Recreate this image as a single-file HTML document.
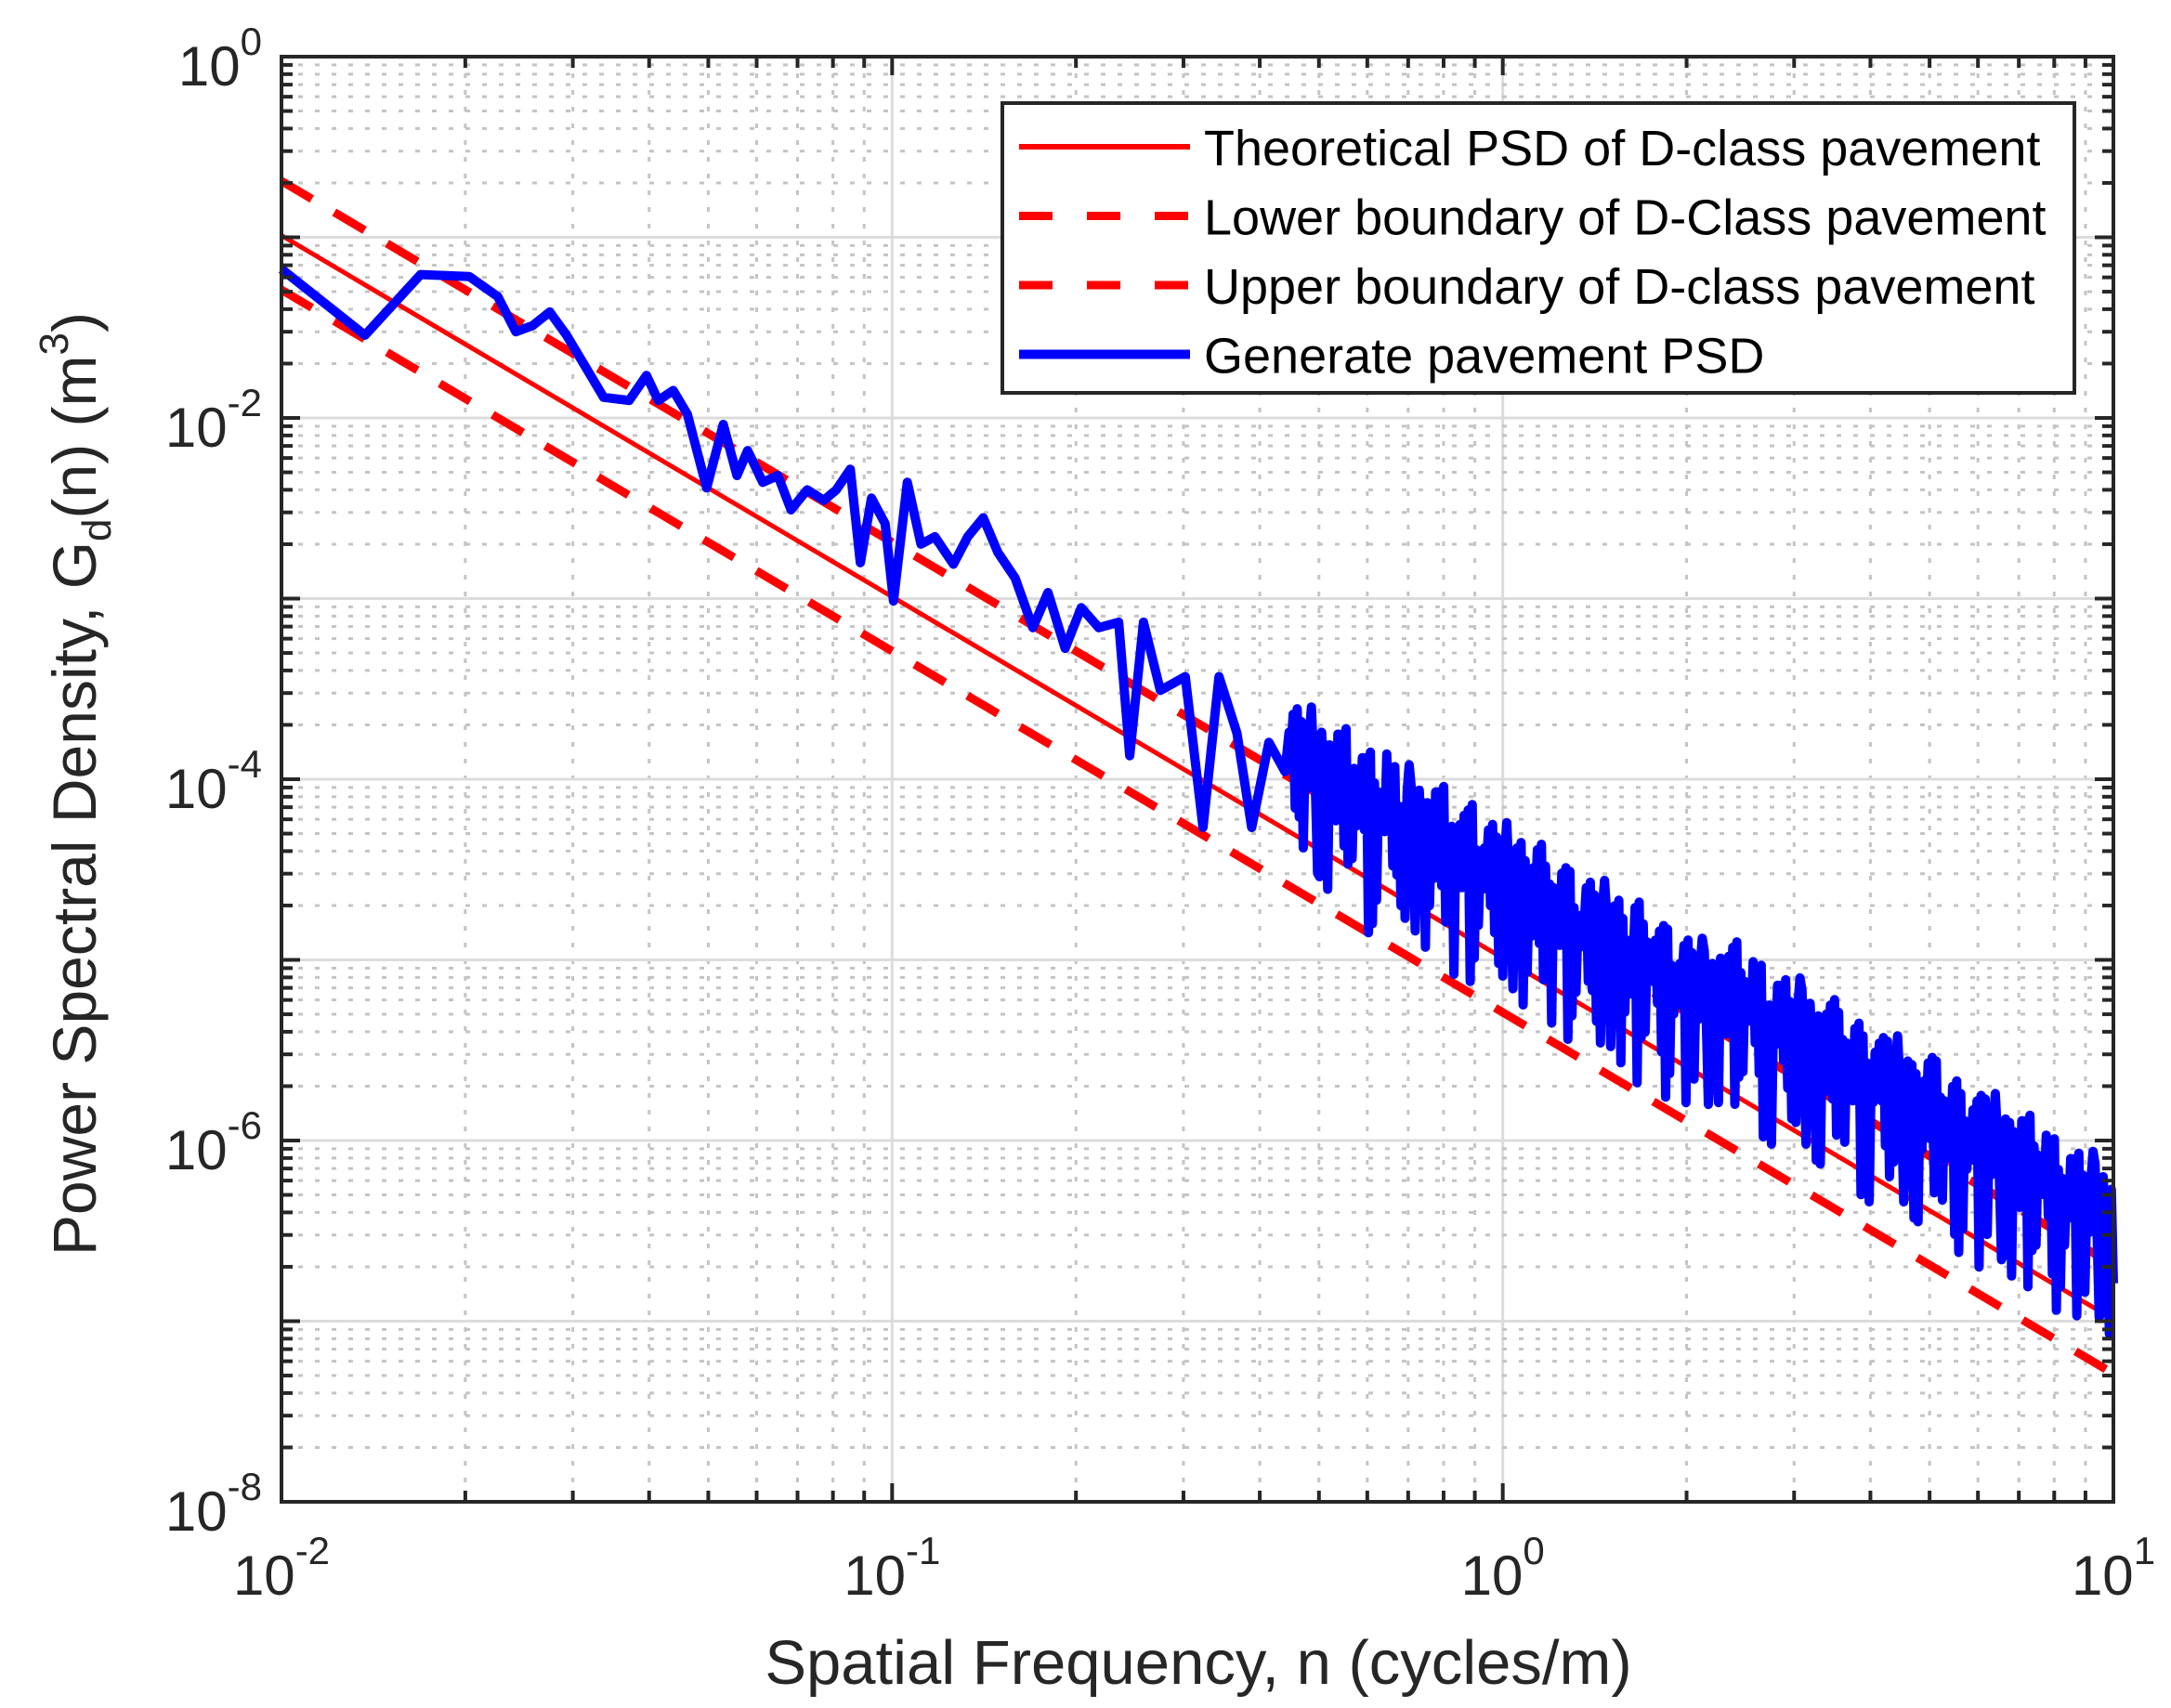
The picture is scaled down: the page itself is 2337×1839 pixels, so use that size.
<!DOCTYPE html>
<html><head><meta charset="utf-8"><style>
html,body{margin:0;padding:0;background:#fff;}
svg{display:block;font-family:"Liberation Sans",Arial,sans-serif;}
</style></head><body>
<svg id="chart" width="2337" height="1839" viewBox="0 0 2337 1839" xmlns="http://www.w3.org/2000/svg">
<rect width="2337" height="1839" fill="#fff"/>
<g id="grid"></g>
<g id="series"></g>
<g id="axes"></g>
<g id="legend"></g>
<text x="1290" y="1813" font-size="67" fill="#262626" text-anchor="middle">Spatial Frequency, n (cycles/m)</text>
<text transform="translate(103,844) rotate(-90)" font-size="66" fill="#262626" text-anchor="middle">Power Spectral Density, G<tspan font-size="44" dy="16">d</tspan><tspan dy="-16">(n) (m</tspan><tspan font-size="44" dy="-30">3</tspan><tspan dy="30">)</tspan></text>
</svg>
<script>
// ---- data ----
const xTickExps = [-2, -1, 0, 1];
const yTickExps = [-8, -6, -4, -2, 0];
const gq0Theory = 1024e-6;   // m^3 at n0
const gq0Lower = 512e-6;
const gq0Upper = 2048e-6;
const n0 = 0.1;
const lineFreqs = [0.01, 10];
// Low-frequency generated PSD
const lowFreqs = [0.01,0.0137,0.0169,0.0203,0.0226,0.0242,0.0258,0.0275,0.0293,0.0337,0.0371,0.0396,0.0414,0.0438,0.0462,0.0497,0.0529,0.0557,0.058,0.0614,0.065,0.0683,0.0726,0.0773,0.081,0.0854,0.0887,0.0925,0.0974,0.1005,0.1059,0.1115,0.1175,0.126,0.133,0.141,0.149,0.159,0.17,0.18,0.192,0.204,0.218,0.235,0.245,0.258,0.275,0.302,0.323,0.343,0.367,0.388,0.414,0.44];
const lowValues = [0.0667,0.0287,0.0622,0.0607,0.047,0.030,0.0325,0.0386,0.0287,0.013,0.0125,0.0172,0.0125,0.0142,0.0105,0.0041,0.0092,0.0048,0.0066,0.0044,0.0048,0.0031,0.0040,0.0035,0.0040,0.0052,0.00158,0.0036,0.0026,0.00097,0.0044,0.0020,0.0022,0.00155,0.0022,0.0028,0.0018,0.0013,0.00069,0.00108,0.00053,0.00089,0.00069,0.00074,0.000135,0.00074,0.00031,0.00037,5.4e-5,0.00037,0.00018,5.4e-5,0.00016,0.00011];
// High-frequency generated PSD: log10 values on a log-frequency grid (three interleaved sub-grids)
const denseLogFreqStart = -0.35;
const denseLogFreqStep = 0.01;
const denseLogValuesA = [-3.74,-4.16,-3.68,-4.05,-3.87,-4.54,-3.81,-4.08,-3.75,-4.37,
-3.99,-4.26,-3.88,-4.85,-4.02,-4.19,-3.86,-4.48,-4.15,-4.77,
-4.04,-4.41,-4.13,-4.70,-4.07,-4.59,-4.31,-5.08,-4.25,-4.52,
-4.14,-4.81,-4.38,-4.70,-4.32,-5.09,-4.51,-4.63,-4.35,-5.07,
-4.49,-4.91,-4.48,-5.35,-4.62,-4.89,-4.51,-5.18,-4.75,-5.12,
-4.64,-5.46,-4.73,-5.05,-4.67,-5.29,-4.91,-5.68,-4.80,-5.12,
-4.89,-5.51,-4.83,-5.30,-5.02,-5.79,-4.96,-5.33,-4.95,-5.62,
-5.04,-5.41,-4.98,-5.80,-5.07,-5.34,-5.01,-5.63,-5.25,-6.02,
-5.14,-5.56,-5.23,-5.90,-5.17,-5.59,-5.36,-6.13,-5.30,-5.77,
-5.29,-6.01,-5.48,-5.75,-5.42,-6.34,-5.51,-5.78,-5.45,-6.12,
-5.64,-6.06,-5.58,-6.45,-5.67,-5.99,-5.56,-6.33,-5.85,-6.52,
-5.74,-6.16,-5.83,-6.70,-5.77,-6.19,-5.96,-6.63,-5.90,-6.37,
-5.89,-6.81,-6.03,-6.30,-5.97,-6.74,-6.16,-6.58,-6.10,-6.97,
-6.19,-6.51,-6.13,-6.95,-6.32,-6.79];
const denseLogValuesB = [-3.84,-3.61,-4.38,-3.75,-4.07,-3.74,-4.61,-3.93,-4.05,-3.72,
-4.44,-3.96,-4.28,-3.85,-4.67,-4.14,-4.16,-3.93,-4.70,-4.07,
-4.39,-4.06,-4.93,-4.25,-4.37,-4.04,-4.76,-4.28,-4.60,-4.17,
-4.99,-4.46,-4.48,-4.25,-5.02,-4.39,-4.71,-4.38,-5.25,-4.57,
-4.69,-4.36,-5.08,-4.60,-4.92,-4.49,-5.31,-4.78,-4.80,-4.57,
-5.34,-4.71,-5.03,-4.70,-5.57,-4.89,-5.01,-4.68,-5.40,-4.92,
-5.24,-4.81,-5.63,-5.10,-5.12,-4.89,-5.66,-5.03,-5.35,-5.02,
-5.79,-5.11,-5.23,-4.90,-5.62,-5.14,-5.46,-5.03,-5.85,-5.32,
-5.34,-5.11,-5.88,-5.25,-5.57,-5.24,-6.11,-5.43,-5.55,-5.22,
-5.94,-5.46,-5.78,-5.35,-6.17,-5.64,-5.66,-5.43,-6.20,-5.57,
-5.89,-5.56,-6.43,-5.75,-5.87,-5.54,-6.26,-5.78,-6.10,-5.67,
-6.49,-5.96,-5.98,-5.75,-6.52,-5.89,-6.21,-5.88,-6.75,-6.07,
-6.19,-5.86,-6.58,-6.10,-6.42,-5.99,-6.81,-6.28,-6.30,-6.07,
-6.84,-6.21,-6.53,-6.20,-7.07,-6.39];
const denseLogValuesC = [-3.64,-4.21,-3.83,-3.60,-4.52,-3.99,-3.81,-4.23,-3.75,-4.47,
-3.94,-4.16,-3.88,-4.80,-4.07,-4.29,-3.96,-4.53,-4.15,-3.92,
-4.84,-4.31,-4.13,-4.55,-4.07,-4.79,-4.26,-4.48,-4.20,-5.12,
-4.39,-4.61,-4.28,-4.85,-4.47,-4.24,-5.16,-4.63,-4.45,-4.87,
-4.39,-5.11,-4.58,-4.80,-4.52,-5.44,-4.71,-4.93,-4.60,-5.17,
-4.79,-4.56,-5.48,-4.95,-4.77,-5.19,-4.71,-5.43,-4.90,-5.12,
-4.84,-5.76,-5.03,-5.25,-4.92,-5.49,-5.11,-4.88,-5.80,-5.27,
-4.99,-5.41,-4.93,-5.65,-5.12,-5.34,-5.06,-5.98,-5.25,-5.47,
-5.14,-5.71,-5.33,-5.10,-6.02,-5.49,-5.31,-5.73,-5.25,-5.97,
-5.44,-5.66,-5.38,-6.30,-5.57,-5.79,-5.46,-6.03,-5.65,-5.42,
-6.34,-5.81,-5.63,-6.05,-5.57,-6.29,-5.76,-5.98,-5.70,-6.62,
-5.89,-6.11,-5.78,-6.35,-5.97,-5.74,-6.66,-6.13,-5.95,-6.37,
-5.89,-6.61,-6.08,-6.30,-6.02,-6.94,-6.21,-6.43,-6.10,-6.67,
-6.29,-6.06,-6.98,-6.45,-6.27,-6.69];
const legendLabels = ["Theoretical PSD of D-class pavement","Lower boundary of D-Class pavement","Upper boundary of D-class pavement","Generate pavement PSD"];

// ---- layout ----
const L=303,R=2275,T=61,B=1617;
const xMinE=-2,xMaxE=1,yMinE=-8,yMaxE=0;
function X(n){return L+(Math.log10(n)-xMinE)/(xMaxE-xMinE)*(R-L);}
function Y(v){return B-(Math.log10(v)-yMinE)/(yMaxE-yMinE)*(B-T);}
const NS="http://www.w3.org/2000/svg";
function mk(tag,attrs,parent){const e=document.createElementNS(NS,tag);for(const k in attrs)e.setAttribute(k,attrs[k]);parent.appendChild(e);return e;}
const grid=document.getElementById('grid'),series=document.getElementById('series'),axes=document.getElementById('axes'),legend=document.getElementById('legend');

// grid
for(let e=xMinE;e<xMaxE;e++){for(let m=1;m<10;m++){const x=X(m*Math.pow(10,e));if(x<=L+1)continue;
 const g=mk('line',{x1:x,x2:x,y1:T,y2:B,stroke:m===1?'#dcdcdc':'#c4c4c4','stroke-width':3,'stroke-dasharray':m===1?'none':'5 13'},grid);
 
 }}
for(let e=yMinE;e<yMaxE;e++){for(let m=1;m<10;m++){const y=Y(m*Math.pow(10,e));if(y>=B-1)continue;
 const g=mk('line',{x1:L,x2:R,y1:y,y2:y,stroke:m===1?'#dcdcdc':'#c4c4c4','stroke-width':3,'stroke-dasharray':m===1?'none':'5 13'},grid);
 
 }}

// reference lines
function refLine(gq,name,w,dash){const p=lineFreqs.map(n=>X(n).toFixed(1)+','+Y(gq*Math.pow(n/n0,-2)).toFixed(1)).join(' ');
 const e=mk('polyline',{points:p,fill:'none',stroke:'#ff0000','stroke-width':w,'stroke-dasharray':dash},series);
 
 }
refLine(gq0Theory,'theoretical-psd-line',5,'none');
refLine(gq0Lower,'lower-boundary-line',9,'38 28');
refLine(gq0Upper,'upper-boundary-line',9,'38 28');

// generated PSD
const pts=[];
lowFreqs.forEach((n,i)=>pts.push(X(n).toFixed(1)+','+Y(lowValues[i]).toFixed(1)));
const subs=[denseLogValuesA,denseLogValuesB,denseLogValuesC];
for(let i=0;i<denseLogValuesA.length;i++){
 subs.forEach((arr,j)=>{if(i>=arr.length)return;const n=Math.pow(10,denseLogFreqStart+(i+j/3)*denseLogFreqStep);
  if(n>10)return;pts.push(X(n).toFixed(1)+','+Y(Math.pow(10,arr[i])).toFixed(1));});
}
const blue=mk('polyline',{points:pts.join(' '),fill:'none',stroke:'#0000ff','stroke-width':10,'stroke-linejoin':'round'},series);



// axes box
const box=mk('rect',{x:L,y:T,width:R-L,height:B-T,fill:'none',stroke:'#262626','stroke-width':4},axes);


// ticks
for(let e=xMinE;e<=xMaxE;e++){for(let m=1;m<10;m++){if(e===xMaxE&&m>1)break;const x=X(m*Math.pow(10,e));const len=m===1?20:12;
 mk('line',{x1:x,x2:x,y1:B,y2:B-len,stroke:'#262626','stroke-width':4},axes);
 mk('line',{x1:x,x2:x,y1:T,y2:T+len,stroke:'#262626','stroke-width':4},axes);}}
for(let e=yMinE;e<=yMaxE;e++){for(let m=1;m<10;m++){if(e===yMaxE&&m>1)break;const y=Y(m*Math.pow(10,e));const len=m===1?20:12;
 mk('line',{x1:L,x2:L+len,y1:y,y2:y,stroke:'#262626','stroke-width':4},axes);
 mk('line',{x1:R,x2:R-len,y1:y,y2:y,stroke:'#262626','stroke-width':4},axes);}}
// tick labels
xTickExps.forEach(e=>{const x=X(Math.pow(10,e));
 const t=mk('text',{x:x,y:1717,'font-size':60,fill:'#262626','text-anchor':'middle'},axes);
 
 
 t.innerHTML='10<tspan font-size="42" dy="-33">'+(e<0?'-'+(-e):e)+'</tspan>';});
yTickExps.forEach(e=>{const y=Y(Math.pow(10,e));
 const t=mk('text',{x:282,y:y+31,'font-size':60,fill:'#262626','text-anchor':'end'},axes);
 
 
 t.innerHTML='10<tspan font-size="42" dy="-33">'+(e<0?'-'+(-e):e)+'</tspan>';});

// legend
const lb=mk('rect',{x:1079,y:111,width:1154,height:312,fill:'#fff',stroke:'#262626','stroke-width':4},legend);


const styles=[{w:6,d:'none',c:'#ff0000'},{w:9,d:'36 37',c:'#ff0000'},{w:9,d:'36 37',c:'#ff0000'},{w:10,d:'none',c:'#0000ff'}];
legendLabels.forEach((lab,i)=>{const y=158+i*74.5;
 const ln=mk('line',{x1:1097,x2:1281,y1:y,y2:y,stroke:styles[i].c,'stroke-width':styles[i].w,'stroke-dasharray':styles[i].d},legend);
 
 
 const t=mk('text',{x:1296,y:y+20,'font-size':54,fill:'#000'},legend);
 
 
 t.textContent=lab;});
</script>
</body></html>
